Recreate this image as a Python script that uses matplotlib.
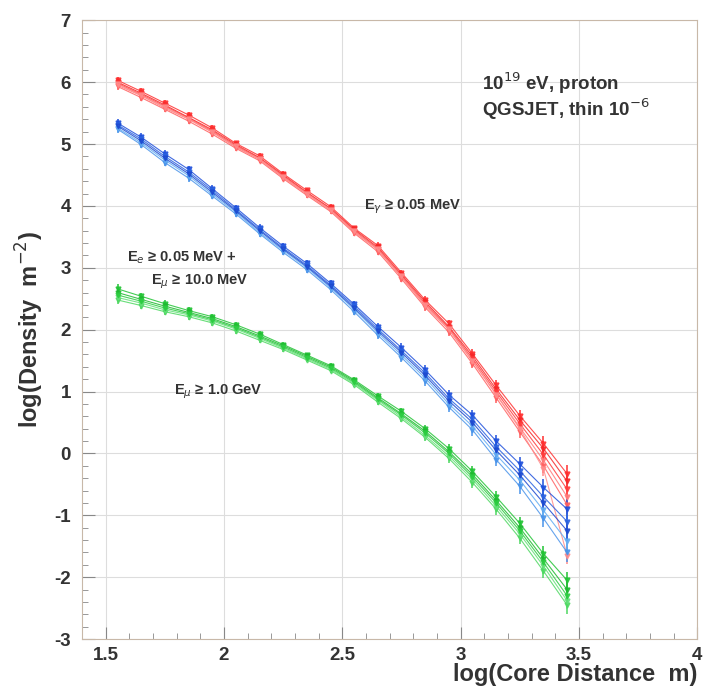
import matplotlib.pyplot as plt
from matplotlib.ticker import MultipleLocator

plt.rcParams['font.family'] = ['Liberation Sans', 'DejaVu Sans']
plt.rcParams['axes.unicode_minus'] = False

# core distance bins, log10(r / m)
log_r = [1.55, 1.65, 1.75, 1.85, 1.95, 2.05, 2.15, 2.25, 2.35, 2.45,
         2.55, 2.65, 2.75, 2.85, 2.95, 3.05, 3.15, 3.25, 3.35, 3.45]

# photons, E >= 0.05 MeV (one list per simulated shower)
gamma_showers = [
    [6.03, 5.85, 5.66, 5.47, 5.26, 5.01, 4.81, 4.52, 4.25, 3.99, 3.64, 3.36, 2.92, 2.48, 2.10, 1.61, 1.10, 0.61, 0.16, -0.33],
    [5.93, 5.75, 5.56, 5.37, 5.16, 4.93, 4.73, 4.44, 4.17, 3.91, 3.56, 3.26, 2.82, 2.36, 1.96, 1.45, 0.90, 0.35, -0.20, -0.83],
    [6.00, 5.82, 5.63, 5.43, 5.23, 4.99, 4.78, 4.50, 4.22, 3.96, 3.62, 3.33, 2.89, 2.45, 2.05, 1.57, 1.04, 0.54, 0.08, -0.45],
    [5.95, 5.78, 5.58, 5.40, 5.19, 4.95, 4.75, 4.46, 4.19, 3.93, 3.58, 3.29, 2.85, 2.39, 2.00, 1.49, 0.96, 0.42, -0.11, -0.70],
    [5.98, 5.80, 5.61, 5.42, 5.21, 4.97, 4.77, 4.48, 4.21, 3.95, 3.60, 3.31, 2.87, 2.42, 2.03, 1.53, 1.00, 0.48, -0.02, -0.58],
    [5.97, 5.79, 5.60, 5.41, 5.20, 4.96, 4.76, 4.47, 4.20, 3.94, 3.59, 3.30, 2.86, 2.40, 2.01, 1.50, 0.95, 0.40, -0.25, -1.65],
]
# electrons E >= 0.05 MeV + muons E >= 10 MeV
charged_showers = [
    [5.34, 5.11, 4.84, 4.59, 4.28, 3.97, 3.65, 3.35, 3.07, 2.75, 2.41, 2.05, 1.71, 1.35, 0.95, 0.62, 0.20, -0.17, -0.55, -0.90],
    [5.24, 4.99, 4.70, 4.45, 4.16, 3.87, 3.55, 3.25, 2.97, 2.65, 2.29, 1.91, 1.55, 1.17, 0.75, 0.38, -0.10, -0.53, -1.05, -1.60],
    [5.31, 5.08, 4.80, 4.55, 4.25, 3.94, 3.62, 3.32, 3.04, 2.72, 2.38, 2.01, 1.66, 1.30, 0.89, 0.55, 0.11, -0.28, -0.70, -1.10],
    [5.26, 5.02, 4.74, 4.49, 4.19, 3.90, 3.57, 3.28, 3.00, 2.68, 2.33, 1.95, 1.59, 1.22, 0.80, 0.44, -0.02, -0.43, -0.92, -1.42],
    [5.29, 5.05, 4.77, 4.52, 4.22, 3.92, 3.60, 3.30, 3.02, 2.70, 2.35, 1.98, 1.63, 1.26, 0.85, 0.50, 0.05, -0.35, -0.80, -1.25],
]
# muons, E >= 1 GeV
muon_showers = [
    [2.66, 2.54, 2.42, 2.31, 2.21, 2.08, 1.93, 1.76, 1.59, 1.42, 1.19, 0.93, 0.68, 0.40, 0.08, -0.29, -0.70, -1.13, -1.62, -2.05],
    [2.48, 2.39, 2.29, 2.21, 2.11, 1.98, 1.83, 1.68, 1.51, 1.34, 1.11, 0.83, 0.56, 0.26, -0.08, -0.47, -0.90, -1.37, -1.90, -2.45],
    [2.60, 2.49, 2.38, 2.28, 2.18, 2.05, 1.90, 1.74, 1.57, 1.40, 1.17, 0.90, 0.64, 0.36, 0.03, -0.34, -0.76, -1.20, -1.70, -2.20],
    [2.52, 2.43, 2.32, 2.24, 2.14, 2.01, 1.86, 1.70, 1.53, 1.36, 1.13, 0.86, 0.59, 0.29, -0.04, -0.42, -0.85, -1.30, -1.82, -2.38],
    [2.56, 2.46, 2.35, 2.26, 2.16, 2.03, 1.88, 1.72, 1.55, 1.38, 1.15, 0.88, 0.62, 0.33, 0.00, -0.38, -0.80, -1.25, -1.76, -2.30],
]

# statistical error per bin (same for every shower of a component)
gamma_err = [0.06, 0.05, 0.05, 0.05, 0.05, 0.04, 0.04, 0.04, 0.04, 0.04, 0.04, 0.05, 0.05, 0.06, 0.06, 0.07, 0.08, 0.10, 0.12, 0.14]
charged_err = [0.06, 0.06, 0.06, 0.06, 0.05, 0.05, 0.05, 0.05, 0.05, 0.05, 0.06, 0.06, 0.07, 0.08, 0.08, 0.09, 0.10, 0.12, 0.14, 0.16]
muon_err = [0.07, 0.06, 0.06, 0.05, 0.05, 0.05, 0.05, 0.04, 0.04, 0.04, 0.04, 0.05, 0.05, 0.06, 0.07, 0.08, 0.09, 0.10, 0.12, 0.14]

fig = plt.figure(figsize=(7.04, 6.97), dpi=100)
ax = fig.add_axes([0.1165, 0.083, 0.874, 0.888])

groups = [
    (gamma_showers, gamma_err, ['#ff3030', '#ff6060', '#f52828', '#ff7a7a', '#ff3c3c', '#ff8c8c']),
    (charged_showers, charged_err, ['#1f50dc', '#4a94ea', '#2a62e0', '#62acf2', '#1d4ad0']),
    (muon_showers, muon_err, ['#22c435', '#4fd862', '#1fb830', '#66e07a', '#2ccc40']),
]
for showers, err, cols in groups:
    for vals, c in zip(showers, cols):
        ax.errorbar(log_r, vals, yerr=err, color=c, lw=0.8, elinewidth=1.3,
                    marker='v', ms=3.5, capsize=0, alpha=0.85)

ax.set_xlim(1.4, 4)
ax.set_ylim(-3, 7)
ax.xaxis.set_major_locator(MultipleLocator(0.5))
ax.xaxis.set_minor_locator(MultipleLocator(0.1))
ax.yaxis.set_major_locator(MultipleLocator(1))
ax.yaxis.set_minor_locator(MultipleLocator(0.2))
ax.set_xticks([1.5, 2, 2.5, 3, 3.5, 4])
ax.set_xticklabels(['1.5', '2', '2.5', '3', '3.5', '4'])
ax.tick_params(which='both', direction='in', top=False, right=False, colors='#888888',
               labelcolor='#333333', labelsize=13.5)
ax.tick_params(which='major', length=9)
ax.tick_params(which='minor', length=4)
ax.tick_params(axis='x', pad=6)
ax.tick_params(axis='y', pad=8)
for lab in ax.get_xticklabels() + ax.get_yticklabels():
    lab.set_fontweight('bold')
ax.grid(True, which='major', color='#dddddd', lw=0.8)
for s in ax.spines.values():
    s.set_color('#c8b8a8')
    s.set_linewidth(0.8)

ax.set_ylabel('log(Density  m$^{-2}$)', fontsize=17, fontweight='bold', color='#333333',
              labelpad=6)
ax.set_xlabel('log(Core Distance  m)', fontsize=17, fontweight='bold', color='#333333',
              loc='right', labelpad=-1)

tc = '#333333'
ax.text(3.09, 5.98, '10$^{19}$ eV, proton', fontsize=13.5, fontweight='bold', color=tc, va='center')
ax.text(3.09, 5.56, 'QGSJET, thin 10$^{-6}$', fontsize=13.5, fontweight='bold', color=tc, va='center')
ax.text(2.59, 3.99, r'E$_\gamma$ ≥ 0.05 MeV', fontsize=10.5, fontweight='bold', color=tc, va='center')
ax.text(1.59, 3.16, r'E$_e$ ≥ 0.05 MeV +', fontsize=10.5, fontweight='bold', color=tc, va='center')
ax.text(1.69, 2.78, r'E$_\mu$ ≥ 10.0 MeV', fontsize=10.5, fontweight='bold', color=tc, va='center')
ax.text(1.79, 1.00, r'E$_\mu$ ≥ 1.0 GeV', fontsize=10.5, fontweight='bold', color=tc, va='center')

fig.savefig('out.png', dpi=100)
